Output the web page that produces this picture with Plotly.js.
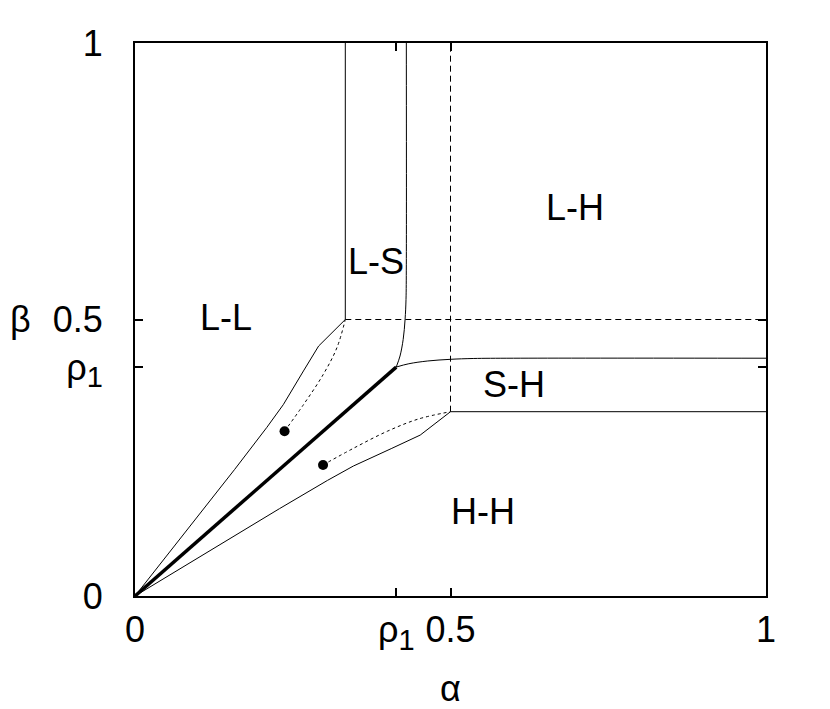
<!DOCTYPE html>
<html>
<head>
<meta charset="utf-8">
<script src="https://cdn.plot.ly/plotly-3.0.1.min.js"></script>
<style>html,body{margin:0;padding:0;background:#fff;}#chart{width:830px;height:709px;}</style>
</head>
<body>
<div id="chart"></div>
<script>
// ---- data ----
const rho1 = 0.414;

// L-L / shock boundary (upper-left curve)
const upperBoundAlpha = [0, 0.079, 0.158, 0.209, 0.235, 0.267, 0.291, 0.3333];
const upperBoundBeta  = [0, 0.114, 0.229, 0.305, 0.346, 0.407, 0.452, 0.5];

// H-H boundary (lower-right curve)
const lowerBoundAlpha = [0, 0.114, 0.229, 0.305, 0.346, 0.407, 0.452, 0.5];
const lowerBoundBeta  = [0, 0.079, 0.158, 0.209, 0.235, 0.267, 0.291, 0.3333];

// thick line (0,0)-(rho1,rho1)
const thickAlpha = [0, rho1];
const thickBeta  = [0, rho1];

// dotted curves ending in dots
const dotUpperAlpha = [0.237, 0.267, 0.298, 0.320, 0.3333];
const dotUpperBeta  = [0.298, 0.346, 0.400, 0.449, 0.5];
const dotLowerAlpha = [0.298, 0.346, 0.400, 0.449, 0.5];
const dotLowerBeta  = [0.237, 0.267, 0.298, 0.320, 0.3333];
const dotsAlpha = [0.237, 0.298];
const dotsBeta  = [0.298, 0.237];

// L-S right boundary (vertical, bending to rho1 point)
const lsRightAlpha = [0.43, 0.43, 0.4295, 0.428, 0.425, 0.420, rho1];
const lsRightBeta  = [1, 0.6, 0.536, 0.5, 0.464, 0.434, rho1];
// S-H upper boundary (horizontal, bending to rho1 point)
const shUpperAlpha = [rho1, 0.434, 0.464, 0.5, 0.536, 0.6, 1];
const shUpperBeta  = [rho1, 0.420, 0.425, 0.428, 0.4295, 0.43, 0.43];

// L-S left boundary
const lsLeftAlpha = [0.3333, 0.3333];
const lsLeftBeta  = [0.5, 1];
// S-H lower boundary
const shLowerAlpha = [0.5, 1];
const shLowerBeta  = [0.3333, 0.3333];

// dashed lines
const dashVAlpha = [0.5, 0.5];
const dashVBeta  = [0.3333, 1];
const dashHAlpha = [0.3333, 1];
const dashHBeta  = [0.5, 0.5];

// region labels
const regionText  = ['L-L', 'L-S', 'L-H', 'S-H', 'H-H'];
const regionAlpha = [0.144, 0.382, 0.697, 0.600, 0.552];
const regionBeta  = [0.503, 0.604, 0.703, 0.382, 0.153];

// ticks
const tickVals = [0, rho1, 0.5, 1];
const tickText = ['0', 'ρ<sub><span style="font-size:29px">1</span></sub>', '0.5', '1'];

// ---- drawing ----
const FONT = 'Liberation Sans, Arial, Helvetica, sans-serif';
const thin = {color: '#000', width: 1};
function line(x, y, ln, shape) {
  return {x: x, y: y, type: 'scatter', mode: 'lines', line: Object.assign({shape: shape || 'linear'}, ln), hoverinfo: 'skip', showlegend: false, cliponaxis: false};
}
const traces = [
  line(upperBoundAlpha, upperBoundBeta, thin),
  line(lowerBoundAlpha, lowerBoundBeta, thin),
  line(lsRightAlpha, lsRightBeta, thin, 'spline'),
  line(shUpperAlpha, shUpperBeta, thin, 'spline'),
  line(lsLeftAlpha, lsLeftBeta, thin),
  line(shLowerAlpha, shLowerBeta, thin),
  line(dashVAlpha, dashVBeta, {color: '#000', width: 1, dash: '6px,4px'}),
  line(dashHAlpha, dashHBeta, {color: '#000', width: 1, dash: '6px,4px'}),
  line(dotUpperAlpha, dotUpperBeta, {color: '#000', width: 1, dash: '3px,3px'}, 'spline'),
  line(dotLowerAlpha, dotLowerBeta, {color: '#000', width: 1, dash: '3px,3px'}, 'spline'),
  line(thickAlpha, thickBeta, {color: '#000', width: 3.5}),
  {x: dotsAlpha, y: dotsBeta, type: 'scatter', mode: 'markers', marker: {color: '#000', size: 10}, hoverinfo: 'skip', showlegend: false}
];

const annotations = regionText.map((t, i) => ({
  x: regionAlpha[i], y: regionBeta[i], xref: 'x', yref: 'y', text: t, showarrow: false,
  xanchor: 'center', yanchor: 'middle', font: {family: FONT, size: 36, color: '#000'}
}));
annotations.push({x: -0.182, y: 0.5, xref: 'paper', yref: 'paper', text: 'β', showarrow: false, xanchor: 'center', yanchor: 'middle', font: {family: FONT, size: 36, color: '#000'}});

const axisCommon = {
  range: [0, 1], showgrid: false, zeroline: false, showline: true, linecolor: '#000', linewidth: 2,
  mirror: 'ticks', ticks: 'inside', ticklen: 8, tickwidth: 2, tickcolor: '#000',
  tickmode: 'array', tickvals: tickVals, ticktext: tickText, tickangle: 0,
  tickfont: {family: FONT, size: 36, color: '#000'}
};

const layout = {
  width: 830, height: 709,
  margin: {l: 135, r: 64, t: 43, b: 113},
  paper_bgcolor: '#fff', plot_bgcolor: '#fff',
  font: {family: FONT, size: 36, color: '#000'},
  xaxis: Object.assign({}, axisCommon, {ticklabelstandoff: 1, title: {text: 'α', font: {family: FONT, size: 36, color: '#000'}, standoff: 26}}),
  yaxis: Object.assign({}, axisCommon, {ticklabelstandoff: 23}),
  annotations: annotations,
  showlegend: false
};

Plotly.newPlot('chart', traces, layout, {displayModeBar: false, staticPlot: true});
</script>
</body>
</html>
